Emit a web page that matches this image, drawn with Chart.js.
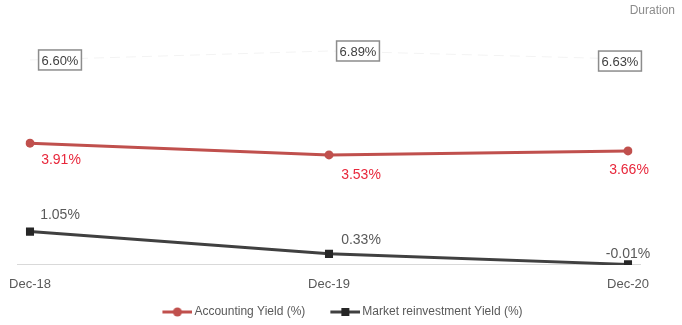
<!DOCTYPE html>
<html>
<head>
<meta charset="utf-8">
<title>Yields and duration</title>
<script src="https://cdn.jsdelivr.net/npm/chart.js@4"></script>
<style>
    html, body { margin: 0; padding: 0; background: #ffffff; }
    #wrap { position: relative; width: 682px; height: 325px; }
</style>
</head>
<body>
<div id="wrap"><canvas id="yield-chart"></canvas></div>
<script>
    'use strict';

    // Year-end observations
    const periods = ['Dec-18', 'Dec-19', 'Dec-20'];
    const accountingYield = [3.91, 3.53, 3.66];
    const marketYield = [1.05, 0.33, -0.01];
    const duration = [6.60, 6.89, 6.63];

    const FONT = "'Liberation Sans', Arial, sans-serif";
    const RED = '#C0504D';
    const DARK = '#404040';

    /**
     * Legend symbol: a short line with its marker, drawn at the right end
     * of a wider transparent canvas so items get some room between them
     */
    function legendIcon(color, shape) {
        const c = document.createElement('canvas');
        c.width = 44;
        c.height = 12;
        const ctx = c.getContext('2d');
        ctx.strokeStyle = color;
        ctx.lineWidth = 3;
        ctx.beginPath();
        ctx.moveTo(14, 6);
        ctx.lineTo(44, 6);
        ctx.stroke();
        if (shape === 'circle') {
            ctx.fillStyle = color;
            ctx.beginPath();
            ctx.arc(29, 6, 4.5, 0, Math.PI * 2);
            ctx.fill();
        } else {
            ctx.fillStyle = '#262626';
            ctx.fillRect(25, 2, 8, 8);
        }
        return c;
    }

    // Empty axis used only to reserve room beside the plot
    function spacerAxis(position, width) {
        return {
            type: 'linear',
            position: position,
            display: true,
            grid: { display: false },
            border: { display: false },
            ticks: { display: false },
            afterFit: function(scale) {
                scale.width = width;
            }
        };
    }

    /**
     * Value labels next to each point, optionally boxed
     */
    const valueLabels = {
        id: 'valueLabels',
        afterDatasetsDraw: function(chart) {
            const ctx = chart.ctx;
            chart.data.datasets.forEach(function(ds, i) {
                const style = ds.labelStyle;
                if (!style) {
                    return;
                }
                const meta = chart.getDatasetMeta(i);
                ctx.save();
                ctx.font = style.font;
                ctx.textAlign = 'center';
                ctx.textBaseline = 'middle';
                meta.data.forEach(function(pt, j) {
                    const text = ds.data[j].toFixed(2) + '%';
                    const x = pt.x + style.offsets[j][0];
                    const y = pt.y + style.offsets[j][1];
                    if (style.boxed) {
                        const w = ctx.measureText(text).width + 6;
                        const h = 20;
                        ctx.fillStyle = '#ffffff';
                        ctx.fillRect(x - w / 2, y - h / 2, w, h);
                        ctx.strokeStyle = '#8c8c8c';
                        ctx.lineWidth = 1.5;
                        ctx.strokeRect(x - w / 2, y - h / 2, w, h);
                    }
                    ctx.fillStyle = style.color;
                    ctx.fillText(text, x, y + 1);
                });
                ctx.restore();
            });
        }
    };

    /**
     * Horizontal axis line at zero, running a little past the outer points
     */
    const zeroLine = {
        id: 'zeroLine',
        beforeDatasetsDraw: function(chart) {
            const ctx = chart.ctx;
            const area = chart.chartArea;
            const y = Math.round(chart.scales.y.getPixelForValue(0)) + 0.5;
            ctx.save();
            ctx.strokeStyle = '#d9d9d9';
            ctx.lineWidth = 1;
            ctx.beginPath();
            ctx.moveTo(area.left - 13, y);
            ctx.lineTo(area.right + 13, y);
            ctx.stroke();
            ctx.restore();
        }
    };

    new Chart(document.getElementById('yield-chart'), {
        type: 'line',
        data: {
            labels: periods,
            datasets: [{
                label: 'Accounting Yield (%)',
                data: accountingYield,
                borderColor: RED,
                backgroundColor: RED,
                borderWidth: 3,
                pointStyle: 'circle',
                pointRadius: 4.5,
                pointBorderWidth: 0,
                tension: 0,
                legendIcon: legendIcon(RED, 'circle'),
                labelStyle: {
                    font: '14px ' + FONT,
                    color: '#E8283C',
                    offsets: [[31, 16], [32, 19], [1, 18]]
                }
            }, {
                label: 'Market reinvestment Yield (%)',
                data: marketYield,
                borderColor: DARK,
                backgroundColor: '#262626',
                borderWidth: 3,
                pointStyle: 'rect',
                pointRadius: 5.7,
                pointBorderWidth: 0,
                tension: 0,
                legendIcon: legendIcon(DARK, 'rect'),
                labelStyle: {
                    font: '14px ' + FONT,
                    color: '#595959',
                    offsets: [[30, -17], [32, -15], [0, -11]]
                }
            }, {
                label: 'Duration',
                data: duration,
                borderColor: '#f3f3f3',
                borderWidth: 1,
                borderDash: [10, 6],
                pointRadius: 0,
                tension: 0,
                labelStyle: {
                    font: '13px ' + FONT,
                    color: '#404040',
                    boxed: true,
                    offsets: [[30, 0], [29, 0], [-8, 2]]
                }
            }]
        },
        options: {
            responsive: true,
            maintainAspectRatio: false,
            animation: false,
            layout: {
                padding: { left: 0, right: 7, top: 0, bottom: -3 }
            },
            plugins: {
                title: {
                    display: true,
                    text: 'Duration',
                    align: 'end',
                    color: '#8c8c8c',
                    font: { family: FONT, size: 12, weight: 'normal' },
                    padding: { top: 3, bottom: 7 },
                    fullSize: true
                },
                legend: {
                    position: 'bottom',
                    labels: {
                        color: '#595959',
                        font: { family: FONT, size: 12 },
                        usePointStyle: true,
                        pointStyleWidth: 36,
                        padding: 15,
                        generateLabels: function(chart) {
                            return chart.data.datasets
                                .map(function(ds, i) {
                                    return {
                                        text: ds.label,
                                        pointStyle: ds.legendIcon,
                                        fontColor: '#595959',
                                        lineWidth: 0,
                                        datasetIndex: i,
                                        hidden: false
                                    };
                                })
                                .filter(function(item) {
                                    return item.pointStyle;
                                });
                        }
                    }
                },
                tooltip: { enabled: false }
            },
            scales: {
                x: {
                    offset: false,
                    grid: { display: false, drawTicks: true, tickLength: 13 },
                    border: { display: false },
                    ticks: {
                        color: '#595959',
                        font: { family: FONT, size: 13, lineHeight: 1.0 },
                        padding: 0,
                        maxRotation: 0
                    }
                },
                y: {
                    display: false,
                    min: -0.03,
                    max: 7.75
                },
                spacerLeft: spacerAxis('left', 30),
                spacerRight: spacerAxis('right', 47)
            }
        },
        plugins: [zeroLine, valueLabels]
    });
</script>
</body>
</html>
